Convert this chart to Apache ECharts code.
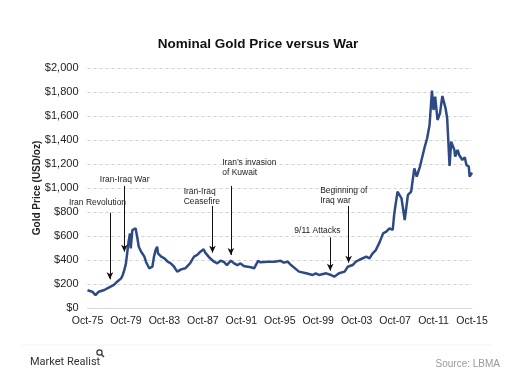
<!DOCTYPE html>
<html>
<head>
<meta charset="utf-8">
<script src="https://cdn.jsdelivr.net/npm/echarts@6/dist/echarts.min.js"></script>
<style>
html,body{margin:0;padding:0;background:#fff;}
#c{width:518px;height:374px;}
</style>
</head>
<body>
<div id="c"></div>
<script>
// ---- data ----
const dates = ["1975-10","1976-04","1976-08","1976-12","1977-07","1978-01","1978-07","1978-11","1979-04","1979-06","1979-08","1979-10","1979-12","1980-01","1980-03","1980-04","1980-06","1980-08","1980-10","1980-12","1981-02","1981-05","1981-07","1981-09","1981-11","1982-01","1982-03","1982-05","1982-07","1982-09","1982-11","1983-01","1983-02","1983-06","1983-10","1984-02","1984-06","1984-10","1985-02","1985-07","1985-12","1986-06","1986-11","1987-03","1987-07","1987-11","1988-01","1988-03","1988-07","1988-12","1989-04","1989-08","1989-12","1990-04","1990-09","1991-01","1991-05","1991-09","1992-01","1992-06","1992-10","1993-02","1993-04","1993-07","1993-10","1994-07","1995-03","1995-11","1996-03","1996-08","1996-12","1997-02","1997-10","1998-07","1999-03","1999-07","1999-11","2000-08","2001-02","2001-06","2001-12","2002-07","2002-11","2003-05","2003-09","2004-01","2004-10","2005-02","2005-06","2005-10","2006-03","2006-07","2006-09","2006-11","2007-03","2007-07","2007-09","2008-01","2008-06","2008-10","2009-02","2009-06","2009-10","2010-01","2010-05","2010-07","2010-11","2011-02","2011-05","2011-07","2011-08","2011-10","2011-12","2012-03","2012-06","2012-09","2013-01","2013-03","2013-06","2013-08","2013-12","2014-01","2014-04","2014-06","2014-08","2014-10","2015-01","2015-03","2015-06","2015-07","2015-10"];
const prices = [148,136,108,136,150,172,192,219,247,275,317,372,483,539,622,497,650,650,664,594,511,469,456,428,386,358,331,317,344,428,483,511,456,428,414,386,372,344,303,322,331,372,428,442,469,489,461,456,414,386,372,394,386,358,394,372,358,372,350,344,339,331,344,392,381,386,386,394,378,386,358,344,303,289,275,289,275,289,275,261,289,303,344,358,386,400,428,414,456,483,553,622,608,636,664,650,789,969,914,733,942,969,1164,1094,1178,1233,1344,1414,1525,1511,1811,1650,1761,1567,1622,1767,1664,1581,1183,1386,1317,1261,1317,1275,1289,1233,1256,1192,1178,1094,1128];
const xTickLabels = ["Oct-75","Oct-79","Oct-83","Oct-87","Oct-91","Oct-95","Oct-99","Oct-03","Oct-07","Oct-11","Oct-15"];
const yTicks = [0,200,400,600,800,1000,1200,1400,1600,1800,2000];

// annotations: event text, arrow date, arrow start value, arrow tip value
const annoText = ["Iran Revolution","Iran-Iraq War","Iran-Iraq\nCeasefire","Iran\u2019s invasion\nof Kuwait","9/11 Attacks","Beginning of\nIraq war"];
const annoDate = ["1978-02","1979-08","1988-10","1990-09","2001-01","2002-12"];
const annoTop = [794,1017,850,1017,589,850];
const annoTip = [239,469,461,442,311,378];
// text anchor (month offset from Oct-75, value) and alignment
const annoTextAt = [[12.5,875],[46.4,1073],[120,928],[168.2,1173],[287,644],[290.5,936]];
const annoAlign = ["center","center","left","left","center","left"];

// ---- build ----
function monthIdx(s){const p=s.split("-");return (parseInt(p[0])-1975)*12+(parseInt(p[1])-10);}
const seriesData = dates.map((d,i)=>[monthIdx(d),prices[i]]);
const FONT = "Liberation Sans, Arial, sans-serif";

const chart = echarts.init(document.getElementById('c'), null, {renderer:'canvas'});
chart.setOption({
  backgroundColor:'#fff',
  animation:false,
  title:{
    text:'Nominal Gold Price versus War',
    left:253, top:32, textAlign:'center',
    textStyle:{fontFamily:FONT,fontSize:13.5,fontWeight:'bold',color:'#111'}
  },
  grid:{left:87.5,right:46,top:68,bottom:66,containLabel:false},
  xAxis:{
    type:'value', min:0, max:480, interval:48,
    axisLine:{show:true,lineStyle:{color:'#d9d9d9',width:1}},
    axisTick:{show:false},
    splitLine:{show:false},
    axisLabel:{
      margin:8,
      fontFamily:FONT,fontSize:10.5,color:'#222',
      formatter:v=>xTickLabels[Math.round(v/48)]
    }
  },
  yAxis:{
    type:'value', min:yTicks[0], max:yTicks[yTicks.length-1], interval:200,
    name:'Gold Price (USD/oz)', nameLocation:'middle', nameRotate:90, nameGap:45,
    nameMoveOverlap:false,
    nameTextStyle:{fontFamily:FONT,fontSize:10,fontWeight:'bold',color:'#222'},
    axisLine:{show:false}, axisTick:{show:false},
    splitLine:{show:true,lineStyle:{color:'#d0d0d0',type:[3,3],width:1}},
    axisLabel:{
      margin:9,fontFamily:FONT,fontSize:11,color:'#222',
      formatter:v=>'$'+v.toLocaleString('en-US')
    }
  },
  series:[{
    type:'line',
    data:seriesData,
    showSymbol:false,
    symbol:'none',
    lineStyle:{color:'#2E4A86',width:2.5},
    z:3,
    markLine:{
      silent:true,
      symbol:['none','arrow'],
      symbolSize:[5,7],
      label:{show:false},
      lineStyle:{color:'#111',width:1,type:'solid'},
      emphasis:{disabled:true},
      data:annoDate.map((d,i)=>[{coord:[monthIdx(d),annoTop[i]]},{coord:[monthIdx(d),annoTip[i]]}])
    },
    markPoint:{
      silent:true,
      symbol:'circle',symbolSize:0,
      data:annoText.map((t,i)=>({
        coord:annoTextAt[i],
        label:{show:true,position:'inside',formatter:t,align:annoAlign[i],verticalAlign:'middle',
          fontFamily:FONT,fontSize:8.5,color:'#222',lineHeight:10}
      }))
    }
  }],
  graphic:[
    {type:'line',shape:{x1:22,y1:345,x2:492,y2:345},style:{stroke:'#f2f2f2',lineWidth:1}},
    {type:'text',left:30,top:357,style:{text:'Market Realist',font:'11px Roboto, '+FONT,fill:'#333'}},
    {type:'circle',shape:{cx:99.5,cy:352.5,r:2.6},style:{stroke:'#333',fill:'none',lineWidth:1.2}},
    {type:'line',shape:{x1:101.5,y1:354.5,x2:104,y2:357},style:{stroke:'#333',lineWidth:1.4}},
    {type:'text',x:500,y:359,style:{text:'Source: LBMA',font:'10px '+FONT,fill:'#999',align:'right'}}
  ]
});
</script>
</body>
</html>
